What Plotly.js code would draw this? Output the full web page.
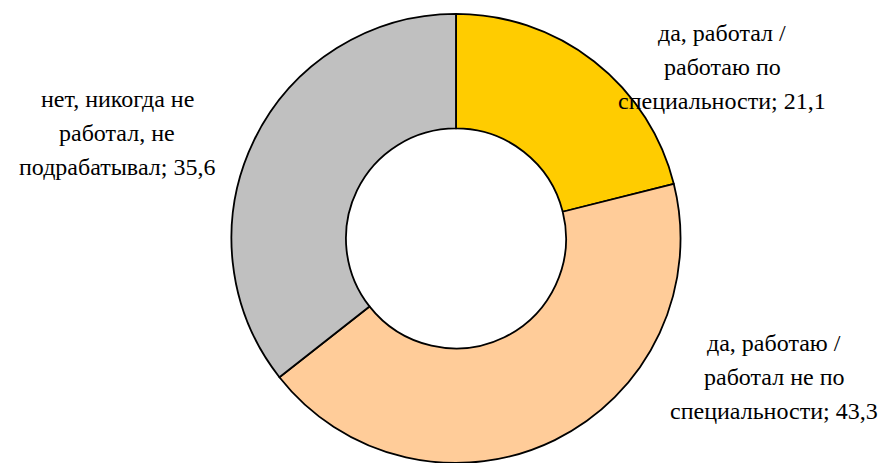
<!DOCTYPE html>
<html>
<head>
<meta charset="utf-8">
<script src="https://cdn.plot.ly/plotly-3.0.1.min.js"></script>
</head>
<body style="margin:0">
<div id="chart"></div>
<script>
const categories = [
  "да, работал /|работаю по|специальности",
  "да, работаю /|работал не по|специальности",
  "нет, никогда не|работал, не|подрабатывал"
];
const values = [21.1, 43.3, 35.6];
const colors = ["#FFCC00", "#FFCC99", "#C0C0C0"];
// label centre (paper x, paper y of the middle line)
const labelPos = [[0.818, 0.855], [0.877, 0.186], [0.133, 0.712]];

const fmt = v => v.toFixed(1).replace('.', ',');
const H = 463, lineGap = 34;

const annotations = [];
categories.forEach((c, i) => {
  const lines = c.split('|');
  lines[lines.length - 1] += '; ' + fmt(values[i]);
  lines.forEach((ln, k) => {
    annotations.push({
      xref: 'paper', yref: 'paper',
      x: labelPos[i][0], y: labelPos[i][1] - (k - 1) * lineGap / H,
      xanchor: 'center', yanchor: 'middle',
      text: ln,
      showarrow: false,
      font: {family: 'Tinos', size: 24, color: '#000000'}
    });
  });
});

Plotly.newPlot('chart', [{
  type: 'pie',
  values: values,
  labels: categories.map(c => c.replace(/\|/g, ' ')),
  hole: 0.49,
  sort: false,
  direction: 'clockwise',
  rotation: 0,
  textinfo: 'none',
  marker: {colors: colors, line: {color: '#000000', width: 1.8}},
  domain: {x: [0.2616, 0.7712], y: [0, 0.97]},
  showlegend: false,
  hoverinfo: 'none'
}], {
  width: 883, height: 463,
  margin: {l: 0, r: 0, t: 0, b: 0},
  font: {family: 'Tinos', size: 24, color: '#000000'},
  showlegend: false,
  annotations: annotations
}, {displayModeBar: false});
</script>
</body>
</html>
